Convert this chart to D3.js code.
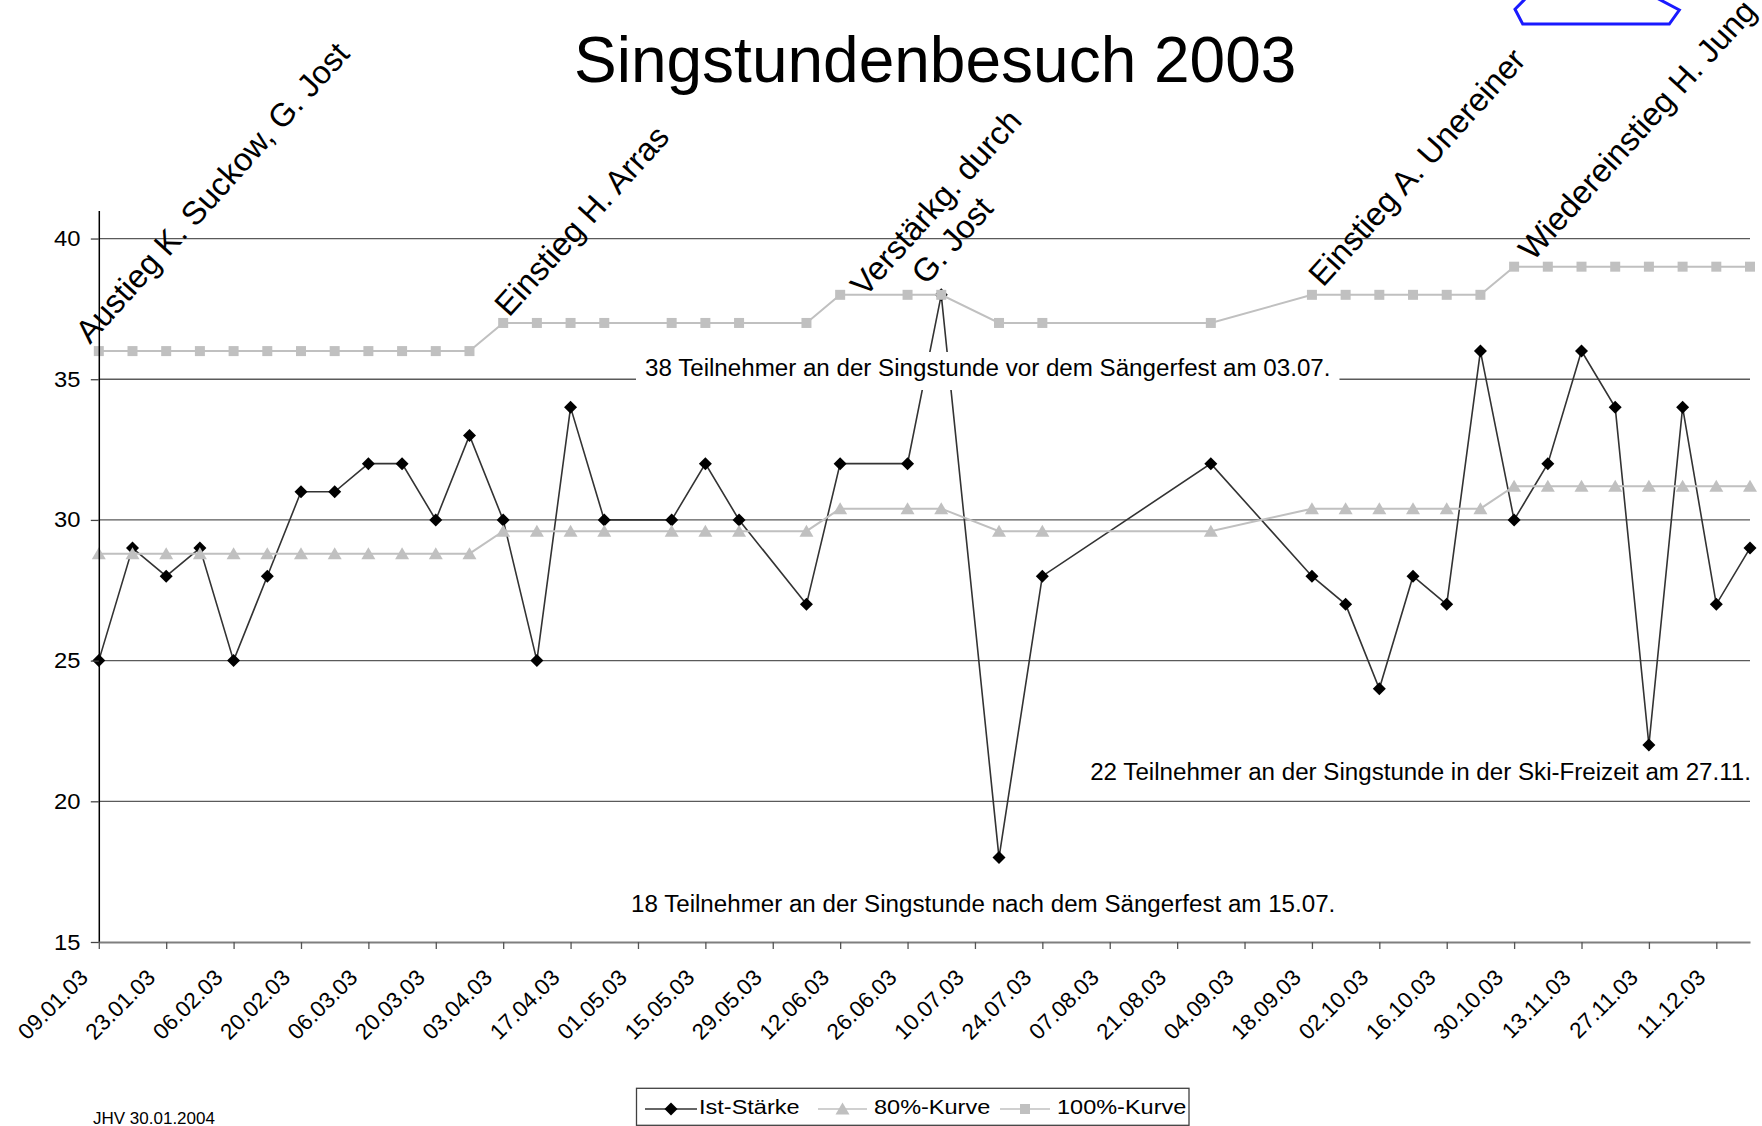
<!DOCTYPE html>
<html><head><meta charset="utf-8">
<script src="https://cdn.jsdelivr.net/npm/d3@7"></script>
<style>
html,body{margin:0;padding:0;background:#fff;}
svg{display:block;font-family:"Liberation Sans",Arial,Helvetica,sans-serif;}
</style></head><body>
<svg id="chart" width="1762" height="1126"></svg>
<script>
// ---------------- data ----------------
const title = "Singstundenbesuch 2003";
const dates = ["09.01.03","16.01.03","23.01.03","30.01.03","06.02.03","13.02.03","20.02.03","27.02.03",
  "06.03.03","13.03.03","20.03.03","27.03.03","03.04.03","10.04.03","17.04.03","24.04.03","08.05.03",
  "15.05.03","22.05.03","05.06.03","12.06.03","26.06.03","03.07.03","15.07.03","24.07.03","28.08.03",
  "18.09.03","25.09.03","02.10.03","09.10.03","16.10.03","23.10.03","30.10.03","06.11.03","13.11.03",
  "20.11.03","27.11.03","04.12.03","11.12.03","18.12.03"];
const istStaerke = [25,29,28,29,25,28,31,31,32,32,30,33,30,25,34,30,30,32,30,27,
  32,32,38,18,28,32,28,27,24,28,27,36,30,32,36,34,22,34,27,29];
const kurve80 = [28.8,28.8,28.8,28.8,28.8,28.8,28.8,28.8,28.8,28.8,28.8,28.8,
  29.6,29.6,29.6,29.6,29.6,29.6,29.6,29.6,30.4,30.4,30.4,29.6,29.6,29.6,
  30.4,30.4,30.4,30.4,30.4,30.4,31.2,31.2,31.2,31.2,31.2,31.2,31.2,31.2];
const kurve100 = [36,36,36,36,36,36,36,36,36,36,36,36,
  37,37,37,37,37,37,37,37,38,38,38,37,37,37,
  38,38,38,38,38,38,39,39,39,39,39,39,39,39];
const seriesNames = ["Ist-Stärke","80%-Kurve","100%-Kurve"];
const tickLabels = ["09.01.03","23.01.03","06.02.03","20.02.03","06.03.03","20.03.03","03.04.03",
  "17.04.03","01.05.03","15.05.03","29.05.03","12.06.03","26.06.03","10.07.03","24.07.03","07.08.03",
  "21.08.03","04.09.03","18.09.03","02.10.03","16.10.03","30.10.03","13.11.03","27.11.03","11.12.03"];
const yTicks = [15,20,25,30,35,40];
const notes = [
  {text:"38 Teilnehmer an der Singstunde vor dem Sängerfest am 03.07.", x:645, y:376, anchor:"start", box:true},
  {text:"22 Teilnehmer an der Singstunde in der Ski-Freizeit am 27.11.", x:1751, y:780, anchor:"end", box:false},
  {text:"18 Teilnehmer an der Singstunde nach dem Sängerfest am 15.07.", x:631, y:911.5, anchor:"start", box:false}
];
const events = [
  {text:"Austieg K. Suckow, G. Jost", x:90, y:345},
  {text:"Einstieg H. Arras", x:509, y:318},
  {text:"Verstärkg. durch", x:865, y:298},
  {text:"G. Jost", x:926, y:286},
  {text:"Einstieg A. Unereiner", x:1323, y:288},
  {text:"Wiedereinstieg H. Jung", x:1533, y:262}
];
const footer = "JHV 30.01.2004";

// ---------------- setup ----------------
const parse = d3.timeParse("%d.%m.%y");
const plot = {left: 98.8, right: 1750, top: 210.4, bottom: 942};
const svg = d3.select("#chart");
svg.append("rect").attr("width",1762).attr("height",1126).attr("fill","#fff");

const rows = dates.map((d,i)=>({date: parse(d), ist: istStaerke[i], k80: kurve80[i], k100: kurve100[i]}));
const x = d3.scaleTime().domain(d3.extent(rows, d=>d.date)).range([plot.left, plot.right]);
const y = d3.scaleLinear().domain([15, 41]).range([plot.bottom, plot.top]);

// gridlines
svg.append("g").selectAll("line").data(yTicks.filter(v=>v>15)).join("line")
  .attr("x1", plot.left).attr("x2", plot.right)
  .attr("y1", d=>y(d)).attr("y2", d=>y(d))
  .attr("stroke","#5a5a5a").attr("stroke-width",1.3);

// series
const lineOf = key => d3.line().x(d=>x(d.date)).y(d=>y(d[key]));
const grey = "#c0c0c0";

svg.append("path").datum(rows).attr("d", lineOf("ist"))
  .attr("fill","none").attr("stroke","#333").attr("stroke-width",1.6);
svg.append("g").selectAll("path").data(rows).join("path")
  .attr("transform", d=>`translate(${x(d.date)},${y(d.ist)})`)
  .attr("d","M0,-6.5L6.5,0L0,6.5L-6.5,0Z").attr("fill","#000");

svg.append("path").datum(rows).attr("d", lineOf("k80"))
  .attr("fill","none").attr("stroke",grey).attr("stroke-width",2);
svg.append("g").selectAll("path").data(rows).join("path")
  .attr("transform", d=>`translate(${x(d.date)},${y(d.k80)})`)
  .attr("d","M0,-6.5L7,5.5L-7,5.5Z").attr("fill",grey);

svg.append("path").datum(rows).attr("d", lineOf("k100"))
  .attr("fill","none").attr("stroke",grey).attr("stroke-width",2);
svg.append("g").selectAll("rect").data(rows).join("rect")
  .attr("x", d=>x(d.date)-5).attr("y", d=>y(d.k100)-5)
  .attr("width",10).attr("height",10).attr("fill",grey);

// horizontal notes
notes.forEach(n=>{
  const sx = 1.05;
  const g = svg.append("g").attr("transform",`translate(${n.x},${n.y})`);
  const rect = g.append("rect");
  const t = g.append("text").text(n.text).attr("font-size",23).attr("fill","#000")
    .attr("text-anchor", n.anchor).attr("transform",`scale(${sx},1)`);
  const len = t.node().getComputedTextLength()*sx;
  const x0 = n.anchor==="end" ? -len : 0;
  rect.attr("x", x0-9).attr("width", len+18).attr("y",-24).attr("height",38)
    .attr("fill", n.box ? "#fff" : "none");
});

// axes
const yAxis = d3.axisLeft(y).tickValues(yTicks).tickSize(8).tickSizeOuter(0).tickPadding(0);
const gy = svg.append("g").attr("transform",`translate(${plot.left},0)`).call(yAxis)
  .attr("font-family",null).attr("font-size",null);
gy.select(".domain").attr("stroke","#000").attr("stroke-width",1.5);
gy.selectAll(".tick line").attr("stroke","#444").attr("stroke-width",1.3);
gy.selectAll(".tick text").attr("x", -18.3/1.08).attr("transform","scale(1.08,1)")
  .attr("font-size",22).attr("fill","#000");

const xAxis = d3.axisBottom(x).tickValues(tickLabels.map(parse))
  .tickFormat((d,i)=>tickLabels[i]).tickSize(7).tickSizeOuter(0);
const gx = svg.append("g").attr("transform",`translate(0,${plot.bottom})`).call(xAxis)
  .attr("font-family",null).attr("font-size",null);
gx.select(".domain").attr("stroke","#7f7f7f").attr("stroke-width",2);
gx.selectAll(".tick line").attr("stroke","#555").attr("stroke-width",1.3);
gx.selectAll(".tick text").attr("y",null).attr("dy",null).attr("x",null)
  .attr("text-anchor","end").attr("transform","translate(-10,37) rotate(-45)")
  .attr("font-size",22.5).attr("fill","#000");

// rotated event labels
svg.append("g").selectAll("text").data(events).join("text")
  .attr("transform", d=>`translate(${d.x},${d.y}) rotate(-48)`)
  .attr("font-size",32.5).attr("fill","#000").text(d=>d.text);

// title
svg.append("text").attr("x",574).attr("y",82).attr("font-size",64).attr("fill","#000").text(title);

// footer
svg.append("text").attr("x",93).attr("y",1124).attr("font-size",17).attr("fill","#000").text(footer);

// legend
const lg = svg.append("g");
lg.append("rect").attr("x",636.5).attr("y",1088.3).attr("width",552.5).attr("height",37)
  .attr("fill","#fff").attr("stroke","#404040").attr("stroke-width",1.3);
const legendItems = [
  {name:seriesNames[0], x0:645, x1:697, tx:699, color:"#333", mark:"M0,-6.5L6.5,0L0,6.5L-6.5,0Z", mfill:"#000"},
  {name:seriesNames[1], x0:818, x1:867, tx:874, color:grey, mark:"M0,-6.5L7,5.5L-7,5.5Z", mfill:grey},
  {name:seriesNames[2], x0:1000, x1:1050, tx:1057, color:grey, mark:"M-5,-5H5V5H-5Z", mfill:grey}
];
legendItems.forEach(it=>{
  lg.append("line").attr("x1",it.x0).attr("x2",it.x1).attr("y1",1109).attr("y2",1109)
    .attr("stroke",it.color).attr("stroke-width",1.6);
  lg.append("path").attr("d",it.mark).attr("fill",it.mfill)
    .attr("transform",`translate(${(it.x0+it.x1)/2},1109)`);
  lg.append("text").attr("transform",`translate(${it.tx},1113.5) scale(1.12,1)`)
    .attr("font-size",21).attr("fill","#000").text(it.name);
});

// blue autoshape outline at top right
svg.append("path").attr("d","M1526,-2L1515,9.3L1522.7,24L1669.3,24L1679.3,10L1656.7,-2")
  .attr("fill","none").attr("stroke","#1a1aff").attr("stroke-width",3);
</script>
</body></html>
